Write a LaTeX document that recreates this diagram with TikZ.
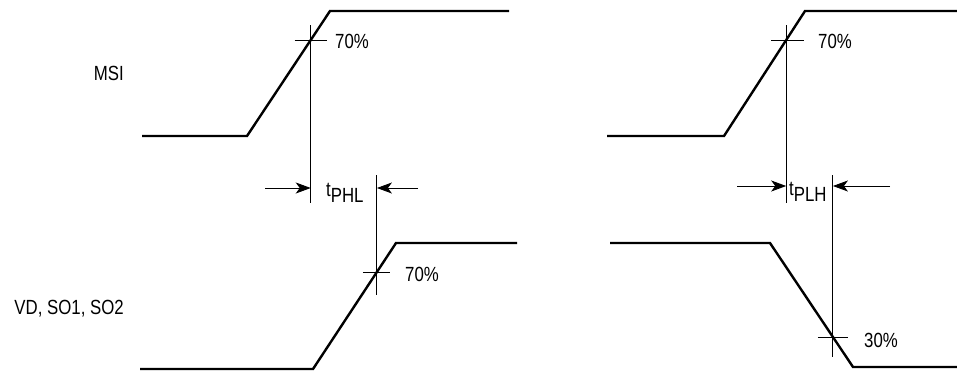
\documentclass[tikz,border=0pt]{standalone}
\usepackage{fontspec}
\setmainfont{Liberation Sans}[FakeStretch=0.82]
\usetikzlibrary{arrows.meta,calc}
\begin{document}
\begin{tikzpicture}[x=1pt,y=-1pt,
  wave/.style={line width=2.4pt,line join=miter},
  fine/.style={line width=0.9pt},
  lbl/.style={inner sep=0pt,font=\fontsize{20.5}{24}\selectfont},
  arr/.style={fine,-{Stealth[length=15pt,width=11pt,inset=4pt]}}]
\useasboundingbox (0,0) rectangle (957,375);

% ---------- waveforms ----------
\coordinate (a0) at (142,136); \coordinate (a1) at (247,136);
\coordinate (a2) at (330,11);  \coordinate (a3) at (509,11);
\draw[wave] (a0) -- (a1) -- (a2) -- (a3);

\coordinate (b0) at (140,369); \coordinate (b1) at (313,369);
\coordinate (b2) at (396,243); \coordinate (b3) at (517,243);
\draw[wave] (b0) -- (b1) -- (b2) -- (b3);

\coordinate (c0) at (607,136); \coordinate (c1) at (724,136);
\coordinate (c2) at (805,11);  \coordinate (c3) at (957,11);
\draw[wave] (c0) -- (c1) -- (c2) -- (c3);

\coordinate (d0) at (610,243); \coordinate (d1) at (770,243);
\coordinate (d2) at (853,367); \coordinate (d3) at (957,367);
\draw[wave] (d0) -- (d1) -- (d2) -- (d3);

% ---------- crossing points ----------
\coordinate (ax) at ($(a1)!0.768!(a2)$);
\coordinate (bx) at ($(b1)!0.77!(b2)$);
\coordinate (cx) at ($(c1)!0.768!(c2)$);
\coordinate (dx) at ($(d1)!0.758!(d2)$);

% ticks and verticals
\draw[fine] ($(ax)+(-16,0)$) -- ($(ax)+(16,0)$);
\draw[fine] ($(ax)+(0,-15)$) coordinate (at) -- (ax |- 0,203) coordinate (ab);
\draw[fine] ($(bx)+(-14,0)$) -- ($(bx)+(13,0)$);
\draw[fine] (bx |- 0,175) coordinate (bt) -- ($(bx)+(0,23)$);
\draw[fine] ($(cx)+(-15,0)$) -- ($(cx)+(18,0)$);
\draw[fine] ($(cx)+(0,-15)$) -- (cx |- 0,203) coordinate (cb);
\draw[fine] ($(dx)+(-15,0)$) -- ($(dx)+(15,0)$);
\draw[fine] (dx |- 0,175) coordinate (dt) -- ($(dx)+(0,20)$);

% ---------- arrows ----------
\coordinate (p1) at (265,188); \coordinate (p2) at (418,188);
\draw[arr] (p1) -- (ax |- p1);
\draw[arr] (p2) -- (bx |- p2);
\coordinate (q1) at (737,186); \coordinate (q2) at (890,186);
\draw[arr] (q1) -- (cx |- q1);
\draw[arr] (q2) -- (dx |- q2);

% ---------- labels ----------
\node[lbl,anchor=east] (msi) at (124,73) {MSI};
\node[lbl,anchor=east] (vd) at (124,309) {VD, SO1, SO2};
\node[lbl,anchor=west] (t1) at (335,41) {70\%};
\node[lbl,anchor=west] (t2) at (405,274) {70\%};
\node[lbl,anchor=west] (t3) at (818,41) {70\%};
\node[lbl,anchor=west] (t4) at (864,340) {30\%};
\node[lbl,anchor=base west] (tphl) at (326,196) {t\raisebox{-6pt}{PHL}};
\node[lbl,anchor=base west] (tplh) at (789,195) {t\raisebox{-6pt}{PLH}};
\end{tikzpicture}
\end{document}
